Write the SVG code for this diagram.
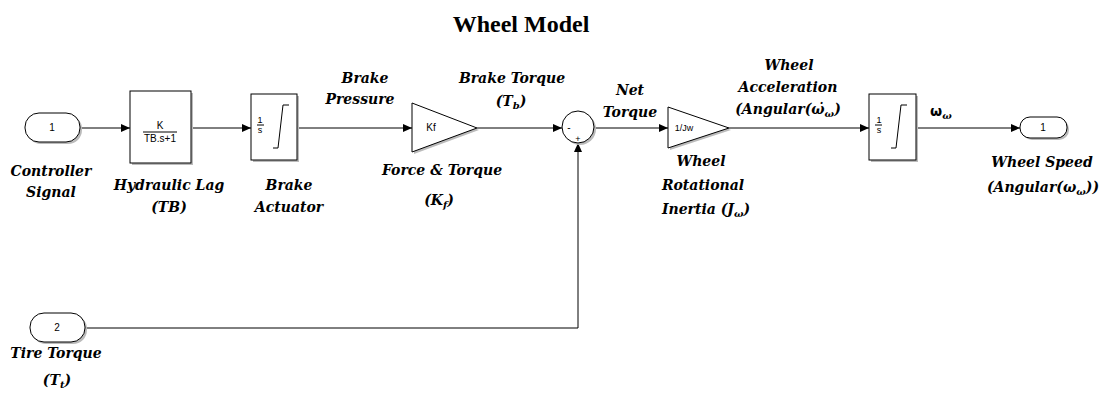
<svg xmlns="http://www.w3.org/2000/svg" width="1107" height="396" viewBox="0 0 1107 396">
<defs>
<style>
.blk{fill:#fff;stroke:#000;stroke-width:1}
.sh{fill:#bbb;stroke:none}
.ln{fill:none;stroke:#000;stroke-width:1}
.lbl{font-family:"DejaVu Serif",serif;font-weight:bold;font-style:italic;font-size:14px;fill:#000;text-anchor:middle}
.in{font-family:"Liberation Sans",Arial,sans-serif;font-size:10px;fill:#000;text-anchor:middle}
.ttl{font-family:"Liberation Serif","Times New Roman",serif;font-weight:bold;font-size:24px;fill:#000;text-anchor:middle}
.sub{font-size:10px}
</style>
<marker id="arr" markerWidth="9" markerHeight="8" refX="9" refY="4" orient="auto" markerUnits="userSpaceOnUse">
<path d="M0,0 L9,4 L0,8 Z" fill="#000"/>
</marker>
</defs>
<rect width="1107" height="396" fill="#fff"/>
<text class="ttl" x="521" y="32">Wheel Model</text>

<g id="connectors">
<path class="ln" d="M80,128 H130" marker-end="url(#arr)"/>
<path class="ln" d="M191,128 H251" marker-end="url(#arr)"/>
<path class="ln" d="M297,128 H412" marker-end="url(#arr)"/>
<path class="ln" d="M477,128 H562" marker-end="url(#arr)"/>
<path class="ln" d="M85,328 H578 V143" marker-end="url(#arr)"/>
<path class="ln" d="M594,128 H668" marker-end="url(#arr)"/>
<path class="ln" d="M729,128 H869" marker-end="url(#arr)"/>
<path class="ln" d="M916,128 H1020" marker-end="url(#arr)"/>
</g>

<g id="in1">
<rect class="sh" x="27" y="115" width="55" height="29" rx="14"/>
<rect class="blk" x="25" y="113" width="55" height="29" rx="14"/>
<text class="in" x="52" y="131">1</text>
<text class="lbl" x="51" y="176">Controller</text>
<text class="lbl" x="51" y="197">Signal</text>
</g>

<g id="hydraulic">
<rect class="sh" x="132" y="93" width="61" height="72"/>
<rect class="blk" x="130" y="91" width="61" height="72"/>
<text class="in" x="160" y="129">K</text>
<line class="ln" x1="143" y1="132" x2="177" y2="132"/>
<text class="in" x="160" y="142">TB.s+1</text>
<text class="lbl" x="169" y="190">Hydraulic Lag</text>
<text class="lbl" x="169" y="212">(TB)</text>
</g>

<g id="actuator">
<rect class="sh" x="253" y="96" width="46" height="66"/>
<rect class="blk" x="251" y="94" width="46" height="66"/>
<text class="in" x="260" y="123" style="font-size:9px">1</text>
<line class="ln" x1="257" y1="125" x2="264" y2="125"/>
<text class="in" x="260" y="133" style="font-size:9px">s</text>
<path class="ln" d="M273,148 H278 L283,105 H289"/>
<text class="lbl" x="289" y="190">Brake</text>
<text class="lbl" x="289" y="212">Actuator</text>
</g>

<text class="lbl" x="365" y="83">Brake</text>
<text class="lbl" x="360" y="104">Pressure</text>

<g id="kf">
<path class="sh" d="M414,105 L479,130 L414,154 Z"/>
<path class="blk" d="M412,103 L477,128 L412,152 Z"/>
<text class="in" x="431" y="131">Kf</text>
<text class="lbl" x="442" y="175">Force &amp; Torque</text>
<text class="lbl" x="439" y="205">(<tspan>K</tspan><tspan class="sub" dy="3">f</tspan><tspan dy="-3">)</tspan></text>
</g>

<text class="lbl" x="512" y="83">Brake Torque</text>
<text class="lbl" x="511" y="106">(T<tspan class="sub" dy="3">b</tspan><tspan dy="-3">)</tspan></text>

<g id="sum">
<circle class="sh" cx="580" cy="129" r="16"/>
<circle class="blk" cx="578" cy="127" r="16"/>
<text class="in" x="569" y="131">-</text>
<text class="in" x="578" y="142" style="font-size:9px">+</text>
</g>

<text class="lbl" x="630" y="95">Net</text>
<text class="lbl" x="630" y="117">Torque</text>

<g id="inertia">
<path class="sh" d="M670,109 L731,130 L670,150 Z"/>
<path class="blk" d="M668,107 L729,128 L668,148 Z"/>
<text class="in" x="684" y="131" style="font-size:9px">1/Jw</text>
<text class="lbl" x="701" y="166">Wheel</text>
<text class="lbl" x="703" y="190">Rotational</text>
<text class="lbl" x="706" y="214">Inertia (J<tspan class="sub" dy="3">ω</tspan><tspan dy="-3">)</tspan></text>
</g>

<text class="lbl" x="789" y="70">Wheel</text>
<text class="lbl" x="788" y="92">Acceleration</text>
<text class="lbl" x="788" y="114">(Angular(ω̇<tspan class="sub" dy="3">ω</tspan><tspan dy="-3">)</tspan></text>

<g id="integrator">
<rect class="sh" x="871" y="96" width="47" height="66"/>
<rect class="blk" x="869" y="94" width="47" height="66"/>
<text class="in" x="879" y="123" style="font-size:9px">1</text>
<line class="ln" x1="875" y1="125" x2="882" y2="125"/>
<text class="in" x="879" y="133" style="font-size:9px">s</text>
<path class="ln" d="M891,148 H896 L901,105 H907"/>
</g>

<text x="930" y="116" style="font-family:'DejaVu Sans',sans-serif;font-size:14px;font-weight:bold">ω<tspan dy="3" style="font-family:'DejaVu Serif',serif;font-style:italic;font-size:10px">ω</tspan></text>

<g id="out1">
<rect class="sh" x="1022" y="119" width="47" height="21" rx="10"/>
<rect class="blk" x="1020" y="117" width="47" height="21" rx="10"/>
<text class="in" x="1043" y="131">1</text>
<text class="lbl" x="1042" y="167">Wheel Speed</text>
<text class="lbl" x="1043" y="192">(Angular(ω<tspan class="sub" dy="3">ω</tspan><tspan dy="-3">))</tspan></text>
</g>

<g id="in2">
<rect class="sh" x="32" y="315" width="55" height="29" rx="14"/>
<rect class="blk" x="30" y="313" width="55" height="29" rx="14"/>
<text class="in" x="57" y="331">2</text>
<text class="lbl" x="56" y="358">Tire Torque</text>
<text class="lbl" x="57" y="385">(T<tspan class="sub" dy="3">t</tspan><tspan dy="-3">)</tspan></text>
</g>
</svg>
